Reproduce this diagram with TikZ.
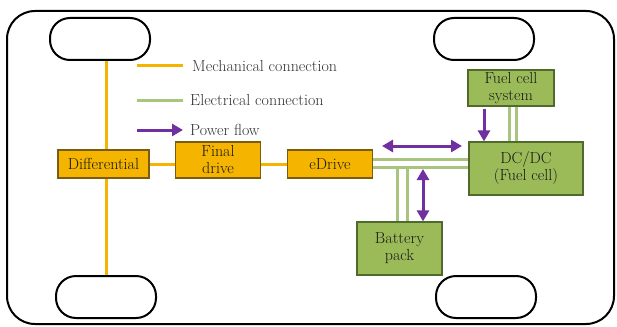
\documentclass[tikz,border=0pt]{standalone}
\usepackage{tikz}
\usetikzlibrary{arrows.meta,positioning,calc}
\definecolor{mechorange}{HTML}{F4B400}
\definecolor{mechedge}{HTML}{7A5C10}
\definecolor{elecfill}{HTML}{9BBB59}
\definecolor{elecedge}{HTML}{4F6A2C}
\definecolor{elecline}{HTML}{A9C47F}
\definecolor{flowpurple}{HTML}{7030A0}
\tikzset{
  >={Triangle[length=11pt, width=12pt]},
  boxfont/.style={font=\fontsize{16}{17}\selectfont},
  mblk/.style={draw=mechedge, fill=mechorange, line width=1.2pt, align=center, boxfont, text=black!90, inner sep=0pt},
  eblk/.style={draw=elecedge, fill=elecfill, line width=1.2pt, align=center, boxfont, text=black!90, inner sep=0pt},
  wheel/.style={draw, line width=2pt, rounded corners=20pt, minimum width=100pt, minimum height=42pt},
  mech/.style={mechorange, line width=3pt},
  elec/.style={elecline, line width=3pt},
  pflow/.style={->, flowpurple, line width=3pt},
  legtxt/.style={anchor=west, boxfont, text=black!80, inner sep=0pt},
}
\begin{document}
\begin{tikzpicture}[x=1pt, y=-1pt]
  \useasboundingbox (0,0) rectangle (617,326);
  % chassis outline
  \draw[line width=2pt, rounded corners=28pt] (7,11) rectangle (614,324);
  \node[wheel] (whtl) at (100,39)  {};
  \node[wheel] (whtr) at (484,39)  {};
  \node[wheel] (whbl) at (106,297) {};
  \node[wheel] (whbr) at (486,297) {};

  % legend
  \node[legtxt] (lgmech) at (192,66)  {Mechanical connection};
  \node[legtxt] (lgelec) at (190,100) {Electrical connection};
  \node[legtxt] (lgflow) at (190,130) {Power flow};
  \draw[mech]  ([xshift=-55pt]lgmech.west) -- ([xshift=-9pt]lgmech.west);
  \draw[elec]  ([xshift=-53pt]lgelec.west) -- ([xshift=-7pt]lgelec.west);
  \draw[pflow] ([xshift=-53pt]lgflow.west) -- ([xshift=-7pt]lgflow.west);

  % drivetrain
  \node[mblk, minimum width=91pt, minimum height=28pt] (diff)   at (103.5,164) {Differential};
  \node[mblk, minimum width=85pt, minimum height=36pt] (fdrive) at (218,160)   {Final\\drive};
  \node[mblk, minimum width=85pt, minimum height=28pt] (edrive) at (330,164)   {eDrive};
  \node[eblk, minimum width=86pt, minimum height=36pt] (fcs)    at (511,88)    {Fuel cell\\system};
  \node[eblk, minimum width=114pt, minimum height=53pt] (dcdc)  at (526,168.5) {DC/DC\\(Fuel cell)};
  \node[eblk, minimum width=85pt, minimum height=53pt] (batt)   at (399.5,248.5) {Battery\\pack};

  \coordinate (axle) at (106,164);
  \draw[mech] (whtl.south -| axle) -- (diff.north -| axle);
  \draw[mech] (diff.south -| axle) -- (whbl.north -| axle);
  \draw[mech] (diff.east) -- (diff.east -| fdrive.west);
  \draw[mech] (fdrive.east |- edrive.west) -- (edrive.west);

  % electrical
  \coordinate (busu) at ([yshift=5pt]edrive.east);
  \coordinate (busl) at ([yshift=-3pt]edrive.east);
  \draw[elec] (busu) -- (busu -| dcdc.west);
  \draw[elec] (busl) -- (busl -| dcdc.west);
  \draw[elec] ([xshift=-2pt]fcs.south) -- ([xshift=-2pt]fcs.south |- dcdc.north);
  \draw[elec] ([xshift=5pt]fcs.south) -- ([xshift=5pt]fcs.south |- dcdc.north);
  \draw[elec] ([xshift=-2.5pt]batt.north) -- ([xshift=-2.5pt]batt.north |- busl);
  \draw[elec] ([xshift=7.5pt]batt.north) -- ([xshift=7.5pt]batt.north |- busl);

  % power flow
  \coordinate (pfa) at (382,146);
  \coordinate (pfb) at (462,146);
  \draw[pflow, <->] (pfa) -- (pfb);
  \draw[pflow] ([xshift=-27pt, yshift=-2pt]fcs.south) -- ([xshift=-27pt]fcs.south |- dcdc.north);
  \draw[pflow, <->] ([xshift=23.5pt]batt.north) -- ([xshift=23.5pt, yshift=-2pt]batt.north |- busl);
\end{tikzpicture}
\end{document}
